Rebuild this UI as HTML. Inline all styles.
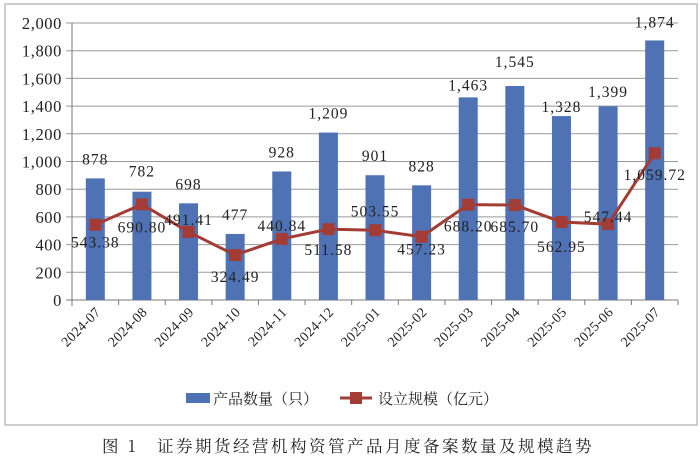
<!DOCTYPE html>
<html><head><meta charset="utf-8"><style>
body{margin:0;background:#fff;width:700px;height:463px;overflow:hidden}
svg{display:block;font-family:"Liberation Serif","Noto Serif CJK SC",serif}
</style></head><body>
<svg id="c" width="700" height="463">
<rect x="5" y="4" width="692" height="421" fill="#fff" stroke="#bdbdbd" stroke-width="1.5"/>
<g id="grid"></g><g id="bars"></g><g id="line"></g><g id="labels"></g>
<g>
<rect x="186" y="393" width="24" height="10" fill="#4f72b5"/>
<text x="213" y="404" font-size="15" font-family="Noto Serif CJK SC,serif" fill="#222">产品数量（只）</text>
<line x1="340" y1="398" x2="372" y2="398" stroke="#a33c35" stroke-width="3"/>
<rect x="350" y="392" width="12" height="12" fill="#a33c35"/>
<text x="378" y="404" font-size="15" font-family="Noto Serif CJK SC,serif" fill="#222">设立规模（亿元）</text>
</g>
<text x="348" y="452" text-anchor="middle" font-size="16.5" letter-spacing="2.5" font-family="Noto Serif CJK SC,serif" fill="#222">图 1　证券期货经营机构资管产品月度备案数量及规模趋势</text>
</svg>
<script>
const categories=["2024-07","2024-08","2024-09","2024-10","2024-11","2024-12","2025-01","2025-02","2025-03","2025-04","2025-05","2025-06","2025-07"];
const counts=[878,782,698,477,928,1209,901,828,1463,1545,1328,1399,1874];
const scale=[543.38,690.80,491.41,324.49,440.84,511.58,503.55,457.23,688.20,685.70,562.95,547.44,1059.72];
const yTicks=[0,200,400,600,800,1000,1200,1400,1600,1800,2000];
const countLabels=["878","782","698","477","928","1,209","901","828","1,463","1,545","1,328","1,399","1,874"];
const scaleLabels=["543.38","690.80","491.41","324.49","440.84","511.58","503.55","457.23","688.20","685.70","562.95","547.44","1,059.72"];
const barDy=[-19,-20,-19,-19,-19,-19,-19,-19,-12,-24,-9,-14,-18];
const lineDy=[18,23,-12,22,-13,21,-19,13,22,22,25,-7,22];
const NS="http://www.w3.org/2000/svg";
const X0=72,X1=678,Y0=300,Y1=23;
const bw=(X1-X0)/categories.length;
const x=i=>X0+bw*(i+0.5);
const y=v=>Y0-(v/2000)*(Y0-Y1);
function mk(tag,attrs,parent,txt){const e=document.createElementNS(NS,tag);for(const k in attrs)e.setAttribute(k,attrs[k]);if(txt!==undefined)e.textContent=txt;document.getElementById(parent).appendChild(e);return e;}
yTicks.forEach(t=>{
  const g=mk("line",{x1:X0-6,x2:X1,y1:y(t),y2:y(t),stroke:t===0?"#777":"#999","stroke-width":1},"grid");
  
  
  const l=mk("text",{x:X0-10,y:y(t)+6,"text-anchor":"end","font-size":16.5,"letter-spacing":"0.6",fill:"#222"},"grid",t.toLocaleString("en-US"));
  
  
});
const ax=mk("line",{x1:X0,x2:X0,y1:Y1,y2:Y0+6,stroke:"#777"},"grid");


for(let i=0;i<=categories.length;i++){
  const tk=mk("line",{x1:X0+bw*i,x2:X0+bw*i,y1:Y0,y2:Y0+5,stroke:"#777"},"grid");
  
  
}
categories.forEach((c,i)=>{
  const b=mk("rect",{x:x(i)-9.5,y:y(counts[i]),width:19,height:Y0-y(counts[i]),fill:"#4f72b5"},"bars");
  
  
  const t=mk("text",{x:x(i)+6,y:Y0+13,"text-anchor":"end","font-size":14,"letter-spacing":"0.3",fill:"#222",transform:`rotate(-45 ${x(i)+6} ${Y0+13})`},"labels",c);
  
  
  const bl=mk("text",{x:x(i),y:y(counts[i])+barDy[i]+5,"text-anchor":"middle","font-size":15.5,"letter-spacing":"1",fill:"#222"},"labels",countLabels[i]);
  
  
});
const pl=mk("polyline",{points:scale.map((v,i)=>x(i)+","+y(v)).join(" "),fill:"none",stroke:"#a33c35","stroke-width":3},"line");


scale.forEach((v,i)=>{
  const m=mk("rect",{x:x(i)-6,y:y(v)-6,width:12,height:12,fill:"#a33c35"},"line");
  
  
  const l=mk("text",{x:x(i),y:y(v)+lineDy[i]+5,"text-anchor":"middle","font-size":15.5,"letter-spacing":"1",fill:"#222"},"labels",scaleLabels[i]);
  
  
});
</script>
</body></html>
